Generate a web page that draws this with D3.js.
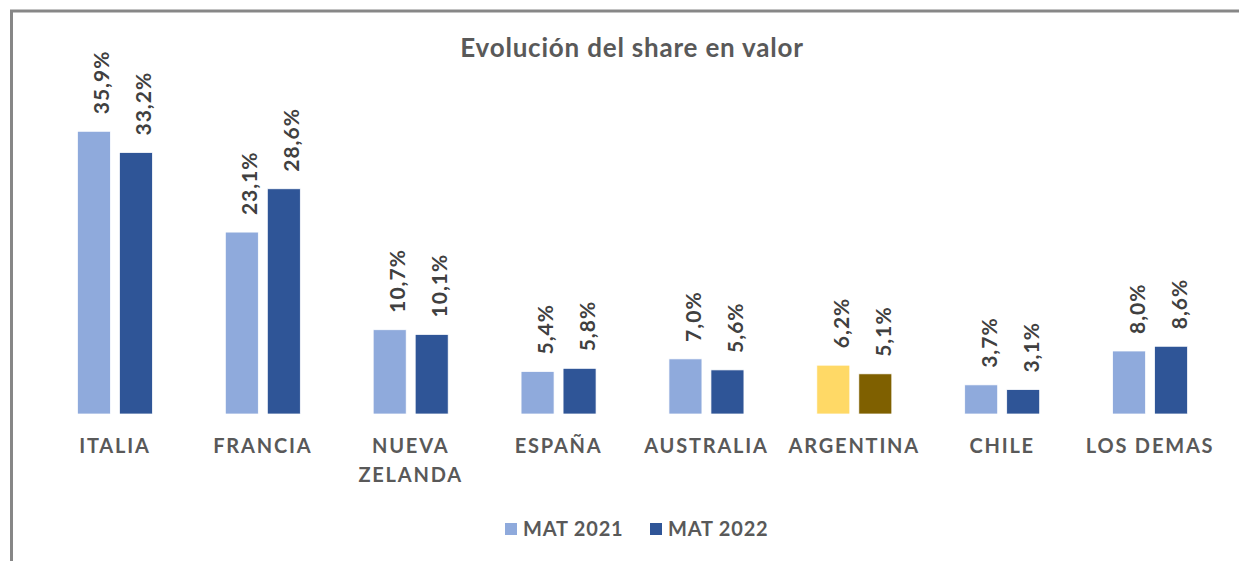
<!DOCTYPE html>
<html>
<head>
<meta charset="utf-8">
<script src="https://cdn.jsdelivr.net/npm/d3@7"></script>
<style>
  html, body { margin: 0; padding: 0; background: #fff; }
  svg { display: block; }
  text { font-family: Lato, "Open Sans", sans-serif; }
</style>
</head>
<body>
<svg id="chart" width="1239" height="561"></svg>
<script>
// Share in value by origin, two moving annual totals
const categories = ["ITALIA", "FRANCIA", "NUEVA ZELANDA", "ESPAÑA", "AUSTRALIA", "ARGENTINA", "CHILE", "LOS DEMAS"];
const series = ["MAT 2021", "MAT 2022"];
const mat2021 = [35.9, 23.1, 10.7, 5.4, 7.0, 6.2, 3.7, 8.0];
const mat2022 = [33.2, 28.6, 10.1, 5.8, 5.6, 5.1, 3.1, 8.6];
const highlight = "ARGENTINA";

const seriesColors = ["#8FAADC", "#2F5597"];
const highlightColors = ["#FFD966", "#7F6000"];

const svg = d3.select("#chart");
const W = 1239, H = 561;

// frame
svg.append("rect")
  .attr("x", 11.5).attr("y", 11)
  .attr("width", W + 10).attr("height", H + 10)
  .attr("fill", "none").attr("stroke", "#878787").attr("stroke-width", 3);

// title
svg.append("text")
  .attr("x", 632).attr("y", 57)
  .attr("text-anchor", "middle")
  .attr("fill", "#595959")
  .attr("font-size", 26).attr("font-weight", 700)
  .attr("letter-spacing", 0.8)
  .text("Evolución del share en valor");

const baseY = 414;
const x0 = d3.scaleBand().domain(categories).range([41, 1224]).padding(0);
const x1 = d3.scaleBand().domain(series).range([-37.5, 37.5]).paddingInner(9 / 42).paddingOuter(0);
const y = d3.scaleLinear().domain([0, 40]).range([baseY, 99]);

const rows = categories.map((c, i) => ({
  cat: c,
  vals: [mat2021[i], mat2022[i]]
}));

const fmt = v => d3.format(".1f")(v).replace(".", ",") + "%";

const groups = svg.append("g").selectAll("g")
  .data(rows).join("g")
  .attr("transform", d => `translate(${x0(d.cat) + x0.bandwidth() / 2},0)`);

const cells = groups.selectAll("g.cell")
  .data(d => d.vals.map((v, j) => ({ cat: d.cat, s: series[j], j, v })))
  .join("g").attr("class", "cell");

cells.append("rect")
  .attr("x", d => x1(d.s))
  .attr("width", x1.bandwidth())
  .attr("y", d => y(d.v))
  .attr("height", d => baseY - y(d.v))
  .attr("fill", d => (d.cat === highlight ? highlightColors : seriesColors)[d.j])
  .attr("stroke", "#fff").attr("stroke-width", 0.75);

cells.append("text")
  .attr("transform", d => `translate(${x1(d.s) + x1.bandwidth() / 2 + 7},${y(d.v) - 17}) rotate(-90)`)
  .attr("dominant-baseline", "central")
  .attr("text-anchor", "start")
  .attr("fill", "#404040")
  .attr("font-size", 21).attr("font-weight", 700)
  .attr("letter-spacing", 1)
  .text(d => fmt(d.v));

// category axis labels
const xAxis = svg.append("g").attr("transform", `translate(0,${baseY})`)
  .call(d3.axisBottom(x0).tickSize(0).tickPadding(0).tickFormat(() => ""));
xAxis.select(".domain").remove();

const wrapWords = { "NUEVA ZELANDA": ["NUEVA", "ZELANDA"] };
xAxis.selectAll(".tick text").remove();
xAxis.selectAll(".tick").append("text")
  .attr("text-anchor", "middle")
  .attr("fill", "#595959")
  .attr("font-size", 20).attr("font-weight", 700)
  .attr("letter-spacing", 1.8)
  .selectAll("tspan")
  .data(d => wrapWords[d] || [d])
  .join("tspan")
  .attr("x", 0)
  .attr("y", (d, i) => 39 + i * 29)
  .text(d => d);

// legend
const legend = svg.append("g");
const legendX = [505, 650];
series.forEach((s, i) => {
  legend.append("rect")
    .attr("x", legendX[i]).attr("y", 523)
    .attr("width", 12).attr("height", 12)
    .attr("fill", seriesColors[i]);
  legend.append("text")
    .attr("x", legendX[i] + 18).attr("y", 536)
    .attr("fill", "#595959")
    .attr("font-size", 20).attr("font-weight", 700)
    .attr("letter-spacing", 0.8)
    .text(s);
});
</script>
</body>
</html>
